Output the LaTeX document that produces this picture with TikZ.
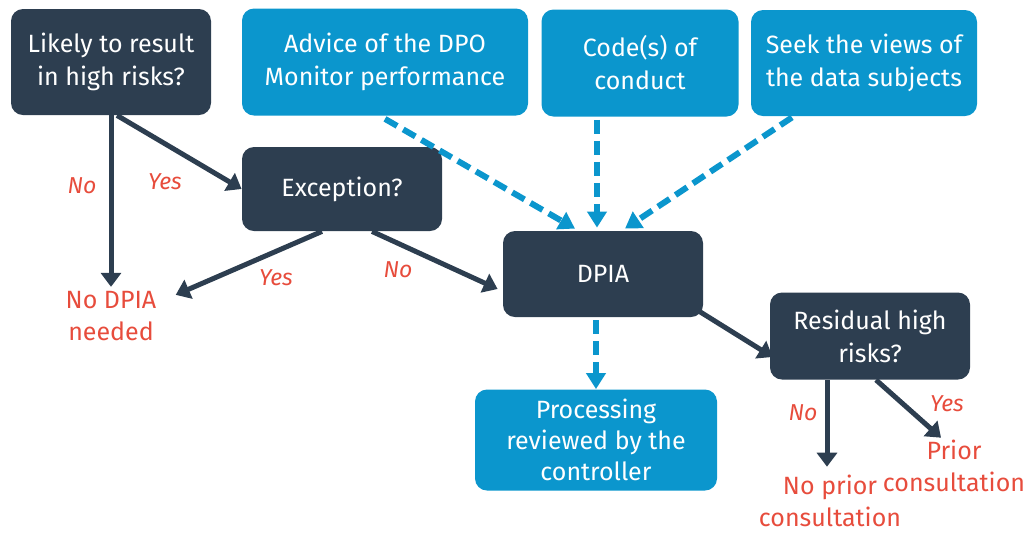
\documentclass[tikz,border=0pt]{standalone}
\usepackage{fontspec}
\setmainfont{Fira Sans}
\usetikzlibrary{arrows.meta, positioning, calc}
\definecolor{navy}{HTML}{2D3E50}
\definecolor{skyblue}{HTML}{0B96CD}
\definecolor{alert}{HTML}{E74C3C}
\tikzset{
  darkblock/.style={
    rectangle, rounded corners=6pt, fill=navy, text=white,
    align=center, inner sep=0pt,
    font=\fontsize{12.5}{16.5}\selectfont
  },
  lightblock/.style={darkblock, fill=skyblue},
  outcome/.style={
    text=alert, align=center, inner sep=2pt,
    font=\fontsize{12.5}{16}\selectfont
  },
  answer/.style={text=alert, inner sep=1pt, font=\itshape\fontsize{11.5}{13}\selectfont},
  arrow/.style={-{Triangle[width=10pt,length=7pt]}, line width=2.5pt, draw=navy},
  dasharrow/.style={-{Triangle[width=9.5pt,length=8pt]}, line width=3pt, draw=skyblue,
    dash pattern=on 7pt off 3.5pt}
}
\begin{document}
\begin{tikzpicture}[x=0.5pt, y=-0.5pt]
\useasboundingbox (0,0) rectangle (1029,532);

% Screening questions
\node[darkblock, minimum width=100pt, minimum height=53pt] (likely) at (111,62)
  {Likely to result\\in high risks?};
\node[darkblock, minimum width=100pt, minimum height=42pt] (exception) at (342,189)
  {Exception?};
\node[outcome] (nodpia) at (111,316) {No DPIA\\needed};

% Inputs to the assessment
\node[lightblock, minimum width=143pt, minimum height=53.5pt] (advice) at (385,62)
  {Advice of the DPO\\Monitor performance};
\node[lightblock, minimum width=98.5pt, minimum height=53.5pt] (code) at (640,63)
  {Code(s) of\\conduct};
\node[lightblock, minimum width=113pt, minimum height=53pt] (views) at (864,63)
  {Seek the views of\\the data subjects};

% Assessment and its results
\node[darkblock, minimum width=100pt, minimum height=43pt] (dpia) at (603,274) {DPIA};
\node[lightblock, minimum width=121pt, minimum height=50.5pt,
  font=\fontsize{12.5}{15.5}\selectfont] (review) at (596,440)
  {Processing\\reviewed by the\\controller};
\node[darkblock, minimum width=100pt, minimum height=43.5pt] (residual) at (870,336)
  {Residual high\\risks?};
\node[outcome] (noprior) at (830,501) {No prior\\consultation};
\node[outcome] (prior) at (954,466) {Prior\\consultation};

% Decision arrows
\draw[arrow] (likely.south) -- (nodpia.north);
\draw[arrow] ($(likely.south)+(6,0)$) -- (exception.west);
\draw[arrow] ($(exception.south)+(-20,0)$) -- ($(nodpia.north east)+(15,8)$);
\draw[arrow] ($(exception.south)+(30,0)$) -- ($(dpia.west)+(-5,15)$);
\draw[arrow] ($(dpia.south east)+(-4,-6)$) -- ($(residual.west)+(3,21)$);
\draw[arrow] ($(residual.south)+(-43,0)$) -- ($(noprior.north)+(-3,-4)$);
\draw[arrow] ($(residual.south)+(6,0)$) -- ($(prior.north)+(-13,2)$);

% Inputs feeding the DPIA
\draw[dasharrow] ($(advice.south)+(0,3)$) -- ($(dpia.north)+(-28,-2)$);
\draw[dasharrow] ($(code.south)+(-43,3)$) -- ($(dpia.north)+(-6,-3)$);
\draw[dasharrow] ($(views.south)+(-72,1)$) -- ($(dpia.north)+(22,-2)$);
\draw[dasharrow] ($(review.north |- dpia.south)+(0,3)$) -- (review.north);

% Answers
\node[answer] (ansno1) at (82,186) {No};
\node[answer] (ansyes1) at (165,182) {Yes};
\node[answer] (ansyes2) at (276,278) {Yes};
\node[answer] (ansno2) at (398,270) {No};
\node[answer] (ansno3) at (803,413) {No};
\node[answer] (ansyes3) at (947,404) {Yes};

\end{tikzpicture}
\end{document}
